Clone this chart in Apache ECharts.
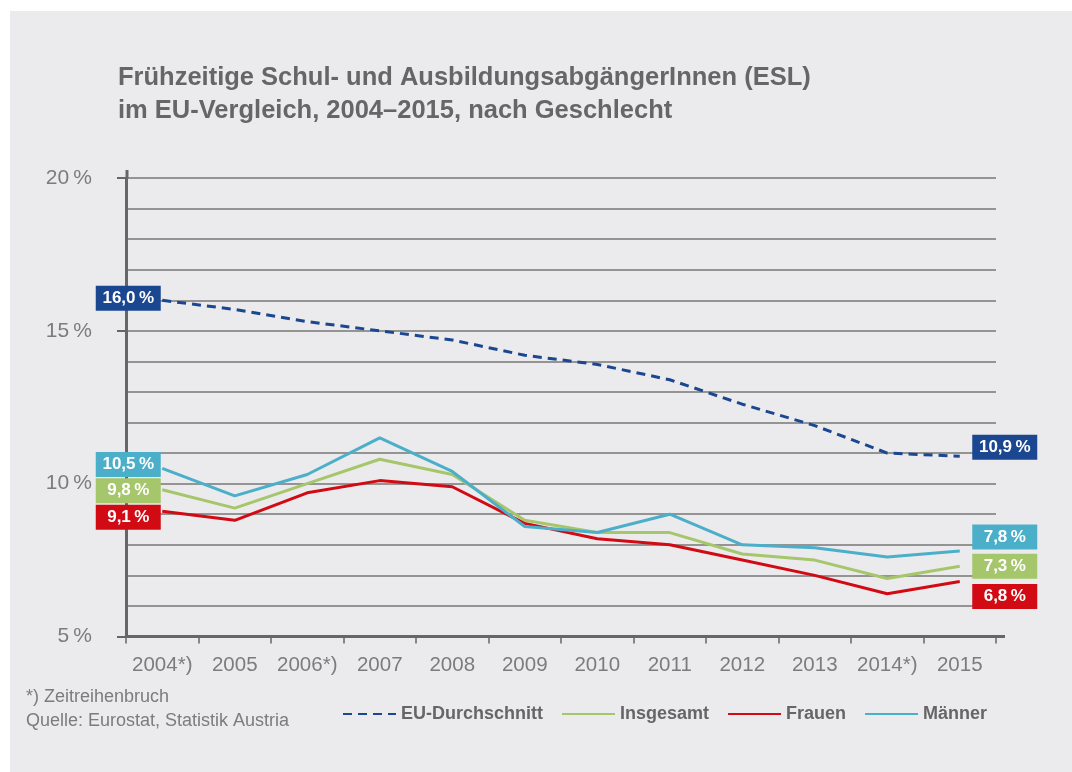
<!DOCTYPE html>
<html>
<head>
<meta charset="utf-8">
<title>ESL im EU-Vergleich</title>
<script src="https://cdn.jsdelivr.net/npm/echarts@6/dist/echarts.min.js"></script>
<style>
    html, body { margin: 0; padding: 0; background: #ffffff; }
    #chart { width: 1072px; height: 772px; }
</style>
</head>
<body>
<div id="chart"></div>
<script>
// Kategorien (x-Achse)
var years = ['2004*)', '2005', '2006*)', '2007', '2008', '2009', '2010', '2011', '2012', '2013', '2014*)', '2015'];

// Werte in Prozent
var euAvg     = [16.0, 15.7, 15.3, 15.0, 14.7, 14.2, 13.9, 13.4, 12.6, 11.9, 11.0, 10.9];
var insgesamt = [9.8, 9.2, 10.0, 10.8, 10.3, 8.8, 8.4, 8.4, 7.7, 7.5, 6.9, 7.3];
var frauen    = [9.1, 8.8, 9.7, 10.1, 9.9, 8.7, 8.2, 8.0, 7.5, 7.0, 6.4, 6.8];
var maenner   = [10.5, 9.6, 10.3, 11.5, 10.4, 8.6, 8.4, 9.0, 8.0, 7.9, 7.6, 7.8];

// y-Achse
var yMin = 5, yMax = 20, yLabelStep = 5;

var FONT = '"Liberation Sans", Arial, sans-serif';
var GREY_TEXT = '#666666';
var GREY_LIGHT = '#7c7c7c';

function pct(v) {
    return v.toFixed(1).replace('.', ',') + '\u2009%';
}

// Wertfelder am Anfang und Ende der Linien (Box 65 px breit, Text zentriert)
function withEndLabels(values, color, offL, offR) {
    var box = {
        show: true,
        color: '#fff',
        fontFamily: FONT,
        fontWeight: 'bold',
        fontSize: 17,
        lineHeight: 17,
        width: 47,
        align: 'center',
        backgroundColor: color,
        padding: [4, 9, 4, 9],
        formatter: function (p) { return pct(p.value); }
    };
    return values.map(function (v, i) {
        if (i === 0) {
            return { value: v, label: Object.assign({}, box, { position: 'left', distance: 1, offset: [-33, offL] }) };
        }
        if (i === values.length - 1) {
            return { value: v, label: Object.assign({}, box, { position: 'right', distance: 12, offset: [33, offR] }) };
        }
        return v;
    });
}

function lineSeries(name, values, color, z, dash, offL, offR) {
    return {
        name: name,
        type: 'line',
        symbol: 'circle',
        symbolSize: 0,
        showSymbol: true,
        z: z,
        color: color,
        itemStyle: { color: color },
        lineStyle: { color: color, width: 3, type: dash || 'solid' },
        data: withEndLabels(values, color, offL, offR)
    };
}

var chart = echarts.init(document.getElementById('chart'), null, { renderer: 'canvas' });

var option = {
    animation: false,
    backgroundColor: '#ffffff',
    graphic: [
        { type: 'rect', z: -10, silent: true, shape: { x: 10, y: 11, width: 1062, height: 761 }, style: { fill: '#ebebed' } },
        { type: 'text', left: 26, top: 688, style: { text: '*) Zeitreihenbruch', font: '18px ' + FONT, fill: GREY_LIGHT } },
        { type: 'text', left: 26, top: 712, style: { text: 'Quelle: Eurostat, Statistik Austria', font: '18px ' + FONT, fill: GREY_LIGHT } },
        // Achsenüberstände wie im Original
        { type: 'line', shape: { x1: 996, y1: 636.5, x2: 1005, y2: 636.5 }, style: { stroke: '#666', lineWidth: 3 } },
        { type: 'line', shape: { x1: 127, y1: 170, x2: 127, y2: 179 }, style: { stroke: '#666', lineWidth: 3 } }
    ],
    title: {
        text: 'Frühzeitige Schul- und AusbildungsabgängerInnen (ESL)\nim EU-Vergleich, 2004–2015, nach Geschlecht',
        left: 113,
        top: 56,
        textStyle: {
            fontFamily: FONT,
            fontSize: 25.5,
            fontWeight: 'bold',
            color: GREY_TEXT,
            lineHeight: 33
        }
    },
    legend: {
        left: 337,
        top: 700,
        itemWidth: 53,
        itemHeight: 14,
        itemGap: 18,
        itemStyle: { opacity: 0 },
        textStyle: { fontFamily: FONT, fontSize: 18, fontWeight: 'bold', color: GREY_TEXT },
        data: ['EU-Durchschnitt', 'Insgesamt', 'Frauen', 'Männer']
    },
    grid: {
        left: 126,
        right: 76,
        top: 178,
        bottom: 135.5
    },
    xAxis: {
        type: 'category',
        data: years,
        boundaryGap: true,
        axisLine: { lineStyle: { color: '#666', width: 3 } },
        axisTick: { show: true, interval: 0, length: 7, lineStyle: { color: '#666', width: 1.5 } },
        axisLabel: { interval: 0, fontFamily: FONT, fontSize: 20.5, color: GREY_LIGHT, margin: 18 },
        splitLine: { show: false }
    },
    yAxis: [
        {
            type: 'value',
            min: yMin,
            max: yMax,
            interval: yLabelStep,
            axisLine: { show: true, lineStyle: { color: '#666', width: 3 } },
            axisTick: { show: true, length: 9, lineStyle: { color: '#666', width: 2 } },
            axisLabel: {
                fontFamily: FONT, fontSize: 21, color: GREY_LIGHT, margin: 34,
                formatter: function (v) { return v + '\u2009%'; }
            },
            splitLine: { show: false }
        },
        {
            type: 'value',
            position: 'left',
            min: yMin,
            max: yMax,
            interval: 1,
            axisLine: { show: false },
            axisTick: { show: false },
            axisLabel: { show: false },
            splitLine: { show: true, lineStyle: { color: '#777777', width: 1.5 } }
        }
    ],
    series: [
        lineSeries('EU-Durchschnitt', euAvg, '#1b4690', 5, [9, 6], -2, -9),
        lineSeries('Insgesamt', insgesamt, '#a6c66c', 4, null, 1, 0),
        lineSeries('Frauen', frauen, '#d20a14', 3, null, 6, 15),
        lineSeries('Männer', maenner, '#4cafc9', 5, null, -4, -14)
    ]
};

chart.setOption(option);
</script>
</body>
</html>
